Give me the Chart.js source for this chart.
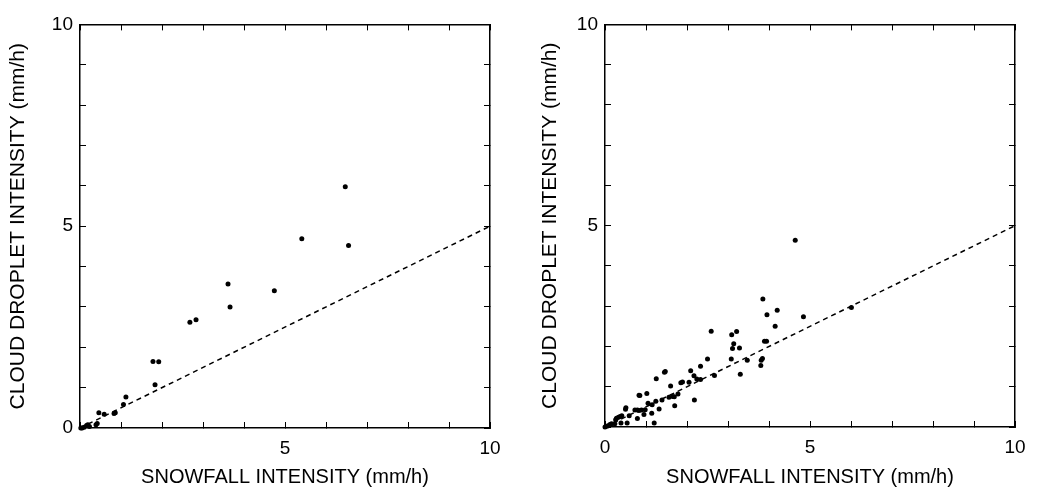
<!DOCTYPE html>
<html>
<head>
<meta charset="utf-8">
<script src="https://cdn.jsdelivr.net/npm/chart.js@4"></script>
<style>
  html, body { margin: 0; padding: 0; background: #fff; }
  body { width: 1042px; height: 495px; position: relative; overflow: hidden; }
  .panel { position: absolute; top: 0; height: 495px; }
  #wrap-left { left: 0; width: 520px; }
  #wrap-right { left: 535px; width: 507px; }
</style>
</head>
<body>
<div class="panel" id="wrap-left"><canvas id="chart-left"></canvas></div>
<div class="panel" id="wrap-right"><canvas id="chart-right"></canvas></div>
<script>
// ── data ──────────────────────────────────────────────────
const X_TITLE = "SNOWFALL INTENSITY (mm/h)";
const Y_TITLE = "CLOUD DROPLET INTENSITY (mm/h)";
const AXIS_MIN = 0;
const AXIS_MAX = 10;
const TICK_LABELS = [0, 5, 10];

// left panel
const leftX = [6.47, 6.55, 5.41, 3.61, 3.66, 4.74, 2.68, 2.83, 1.78, 1.92, 1.83, 1.12, 1.06,
  0.86, 0.83, 0.46, 0.59, 0.42, 0.39, 0.23, 0.16, 0.19, 0.10, 0.05, 0.02];
const leftY = [5.98, 4.52, 4.69, 3.57, 3.00, 3.40, 2.62, 2.68, 1.65, 1.64, 1.07, 0.77, 0.58,
  0.38, 0.36, 0.38, 0.34, 0.11, 0.08, 0.04, 0.06, 0.08, 0.02, 0.00, 0.00];

// right panel
const rightX = [4.64, 3.85, 4.20, 3.95, 4.84, 6.01, 4.15, 2.59, 3.09, 3.21, 3.14, 3.11, 3.28,
  3.89, 3.94, 3.08, 3.47, 3.84, 3.81, 3.80, 3.30, 2.50, 2.33, 2.09, 2.17, 2.24, 2.33, 2.67,
  2.05, 1.89, 1.85, 1.60, 1.47, 1.45, 1.25, 2.18, 1.78, 1.69, 1.65, 1.56, 1.70, 1.02, 0.83,
  0.85, 1.05, 1.15, 1.24, 1.39, 1.32, 1.14, 1.20, 0.98, 0.95, 0.89, 0.73, 0.79, 0.83, 0.79,
  0.51, 0.50, 0.59, 0.41, 0.37, 0.33, 0.28, 0.26, 0.54, 0.39, 0.24, 0.16, 0.12, 0.08, 0.04, 0.00];
const rightY = [4.64, 3.18, 2.90, 2.79, 2.74, 2.97, 2.50, 2.38, 2.29, 2.37, 2.07, 1.95, 1.96,
  2.13, 2.13, 1.69, 1.66, 1.70, 1.66, 1.53, 1.31, 1.69, 1.51, 1.40, 1.27, 1.19, 1.18, 1.28,
  1.11, 1.12, 1.10, 1.02, 1.38, 1.36, 1.20, 0.67, 0.82, 0.75, 0.76, 0.74, 0.53, 0.83, 0.79,
  0.78, 0.59, 0.55, 0.64, 0.67, 0.45, 0.34, 0.10, 0.43, 0.31, 0.42, 0.42, 0.42, 0.41, 0.21,
  0.48, 0.44, 0.28, 0.28, 0.26, 0.24, 0.22, 0.18, 0.10, 0.10, 0.08, 0.08, 0.06, 0.03, 0.02, 0.00];

// dashed reference line (same in both panels)
const lineX = [0, 10];
const lineY = [0, 5];

// ── helpers ───────────────────────────────────────────────
const FONT = "'Liberation Sans', Arial, Helvetica, sans-serif";
const toPoints = (xs, ys) => xs.map((x, i) => ({ x, y: ys[i] }));

function tickLabel(showZero) {
  return (v) => (TICK_LABELS.includes(v) && (showZero || v !== 0) ? String(v) : "");
}

// inward ticks: a negative tickLength draws the marks into the plot
function mainAxis(pos, title, showZero, size, labelPad, titleSize, titlePad) {
  const horizontal = pos === "bottom";
  return {
    type: "linear",
    position: pos,
    min: AXIS_MIN,
    max: AXIS_MAX,
    grid: { drawOnChartArea: false, drawTicks: true, tickLength: -6, color: "#000", lineWidth: 1 },
    border: { display: true, color: "#000", width: 1.5 },
    ticks: {
      stepSize: 1,
      autoSkip: false,
      maxRotation: 0,
      padding: labelPad,
      color: "#000",
      font: { family: FONT, size: 19 },
      callback: tickLabel(showZero),
    },
    title: {
      display: true,
      text: title,
      color: "#000",
      font: { family: FONT, size: titleSize },
      padding: titlePad,
    },
    afterFit: (s) => {
      if (horizontal) s.height = size;
      else s.width = size;
    },
  };
}

function frameAxis(pos, axis) {
  return {
    type: "linear",
    position: pos,
    axis: axis,
    min: AXIS_MIN,
    max: AXIS_MAX,
    grid: { drawOnChartArea: false, drawTicks: true, tickLength: -6, color: "#000", lineWidth: 1 },
    border: { display: true, color: "#000", width: 1.5 },
    ticks: { stepSize: 1, autoSkip: false, display: false },
    afterFit: (s) => {
      if (pos === "top") s.height = 0;
      else s.width = 0;
    },
  };
}

function makeChart(canvasId, xs, ys, cfg) {
  return new Chart(document.getElementById(canvasId), {
    type: "scatter",
    data: {
      datasets: [
        {
          type: "line",
          data: toPoints(lineX, lineY),
          borderColor: "#000",
          borderWidth: 1.5,
          borderDash: [5, 4],
          pointRadius: 0,
          fill: false,
        },
        {
          data: toPoints(xs, ys),
          backgroundColor: "#000",
          borderColor: "#000",
          pointRadius: 2.5,
          borderWidth: 0,
          clip: false,
        },
      ],
    },
    options: {
      responsive: true,
      maintainAspectRatio: false,
      animation: false,
      events: [],
      layout: { padding: cfg.padding },
      plugins: { legend: { display: false }, tooltip: { enabled: false } },
      scales: {
        x: mainAxis("bottom", X_TITLE, cfg.xZero, cfg.xAxisH, 15, 20, { top: 0, bottom: 6 }),
        y: mainAxis("left", Y_TITLE, cfg.yZero, cfg.yAxisW, cfg.yLabelPad, 21, { top: cfg.yTitlePad, bottom: 0 }),
        x2: frameAxis("top", "x"),
        y2: frameAxis("right", "y"),
      },
    },
  });
}

makeChart("chart-left", leftX, leftY, {
  padding: { top: 15, right: 30, left: 0, bottom: 0 },
  xAxisH: 67, yAxisW: 80, yLabelPad: 13, yTitlePad: 6,
  xZero: false, yZero: true,
});

makeChart("chart-right", rightX, rightY, {
  padding: { top: 10, right: 27, left: 0, bottom: 0 },
  xAxisH: 68, yAxisW: 70, yLabelPad: 13, yTitlePad: 3,
  xZero: true, yZero: false,
});
</script>
</body>
</html>
